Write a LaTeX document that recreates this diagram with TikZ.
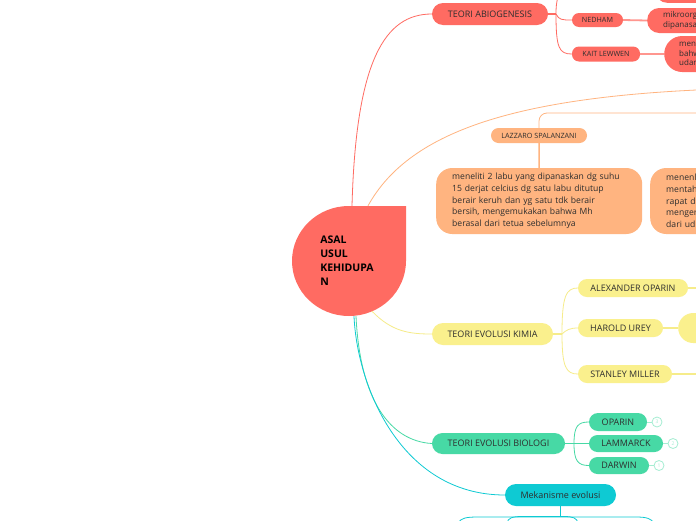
\documentclass[tikz,border=0pt]{standalone}
\usepackage{fontspec}
\setmainfont{Open Sans}
\definecolor{txt}{HTML}{2E2E2E}
\definecolor{cred}{HTML}{FF6B62}
\definecolor{credl}{HTML}{FF968F}
\definecolor{corange}{HTML}{FFB480}
\definecolor{cyellow}{HTML}{FAF08D}
\definecolor{cyell}{HTML}{F6EC8A}
\definecolor{cgreen}{HTML}{47D9A5}
\definecolor{cgreenl}{HTML}{A5EDD2}
\definecolor{cteal}{HTML}{0ECAD3}
\begin{document}
\begin{tikzpicture}[x=1pt,y=-1pt,
  box/.style={inner sep=0pt, text=txt, align=center},
  f9/.style={font=\fontsize{9}{11}\selectfont},
  f8/.style={font=\fontsize{8}{10}\selectfont},
  f7/.style={font=\fontsize{7.2}{9}\selectfont},
  desc/.style={box, align=left, anchor=west, inner xsep=16pt},
  redline/.style={draw=cred, line width=0.8pt},
  redthick/.style={draw=credl, line width=1.8pt},
  orline/.style={draw=corange, line width=0.8pt},
  orthick/.style={draw=corange, line width=1.5pt},
  yline/.style={draw=cyell, line width=0.8pt},
  ythick/.style={draw=cyell, line width=1.5pt},
  gline/.style={draw=cgreen, line width=0.8pt},
  gthin/.style={draw=cgreenl, line width=0.8pt},
  tline/.style={draw=cteal, line width=0.8pt},
  marker/.style={circle, draw=cgreenl, fill=white, line width=0.8pt, minimum size=10pt, inner sep=0pt, text=cgreenl, font=\fontsize{5}{5}\selectfont}
]
\useasboundingbox (0,0) rectangle (696,520);
\fill[white] (0,0) rectangle (696,520);

% central shape
\fill[cred] (406,206) -- (406,261) .. controls (406,291.4) and (380.5,316) .. (349,316)
  .. controls (317.5,316) and (292,291.4) .. (292,261)
  .. controls (292,230.6) and (317.5,206) .. (349,206) -- cycle;
\node[box, minimum width=114pt, minimum height=110pt, align=left, text=black,
  font=\fontsize{10.5}{14}\selectfont\bfseries] (root) at (347,261)
  {ASAL\\USUL\\KEHIDUPA\\N};

% ---------- abiogenesis (red)
\node[box, fill=cred, rounded corners=11pt, minimum width=116pt, minimum height=22pt, f9] (abio) at (490,14) {TEORI ABIOGENESIS};
\node[box, fill=cred, rounded corners=7pt, minimum width=51pt, minimum height=14pt, f7] (ned) at (597.5,20) {NEDHAM};
\node[box, fill=cred, rounded corners=7pt, minimum width=68pt, minimum height=15pt, f7] (kait) at (606,54) {KAIT LEWWEN};
\node[box, fill=cred, rounded corners=12pt, minimum width=70pt, minimum height=30pt, anchor=south west] (topdesc) at (655,3) {};
\node[desc, fill=cred, rounded corners=12pt, minimum height=25pt, text width=70pt, f8] (neddesc) at (647,20.5) {mikroorga\\dipanasak};
\node[desc, fill=cred, rounded corners=18pt, minimum height=36pt, text width=70pt, inner xsep=15pt,
  font=\fontsize{8}{9.5}\selectfont] (kaitdesc) at (664,54) {mene\\bahw\\udara};
\coordinate (aj) at (556,14);
\coordinate (abtop) at (566,-12);
\draw[redline, line width=1.2pt] (abio.east) -- (aj);
\draw[redline] (aj) .. controls (559,20) and (562,20) .. (ned.west);
\draw[redline] (aj) .. controls (556,48) and (559,54) .. (kait.west);
\draw[redline] (aj) .. controls (556,0) and (558,-8) .. (abtop);
\draw[redthick] (ned.east) -- (neddesc.west);
\draw[redthick] (kait.east) -- (kaitdesc.west);
\draw[redline] ([xshift=5pt]root.north) .. controls (356,60) and (385,14) .. (abio.west);

% ---------- biogenesis (orange)
\coordinate (biogen) at (760,88);
\coordinate (lazpar) at (720,113);
\node[box, fill=corange, rounded corners=7.5pt, minimum width=96pt, minimum height=15pt, f7] (laz) at (539,135.5) {LAZZARO SPALANZANI};
\node[desc, fill=corange, rounded corners=16pt, minimum height=66pt, text width=184pt, inner xsep=11pt,
  font=\fontsize{8.6}{11.7}\selectfont] (lazdesc) at (436,201)
  {\hspace*{5pt}meneliti 2 labu yang dipanaskan dg suhu\\\hspace*{5pt}15 derjat celcius dg satu labu ditutup\\\hspace*{5pt}berair keruh dan yg satu tdk berair\\\hspace*{5pt}bersih, mengemukakan bahwa Mh\\\hspace*{5pt}berasal dari tetua sebelumnya};
\node[desc, fill=corange, rounded corners=16pt, minimum height=66pt, text width=174pt,
  font=\fontsize{8.6}{11.7}\selectfont] (desc2) at (650,201)
  {menenl\\mentah\\rapat d\\menger\\dari ud};
\draw[orline] ([xshift=21pt]root.north) .. controls (410,130) and (520,92) .. (biogen);
\draw[orline, rounded corners=8pt] (lazpar) -| (laz.north);
\draw[orthick] (laz.south) -- (lazdesc.north);

% ---------- evolusi kimia (yellow)
\node[box, fill=cyellow, rounded corners=11pt, minimum width=121pt, minimum height=22pt, f9] (kimia) at (492.5,334) {TEORI EVOLUSI KIMIA};
\node[box, fill=cyellow, rounded corners=9pt, minimum width=110pt, minimum height=18pt, f9] (alex) at (633,288) {ALEXANDER OPARIN};
\node[box, fill=cyellow, rounded corners=9pt, minimum width=85pt, minimum height=18pt, f9] (harold) at (620.5,328) {HAROLD UREY};
\node[box, fill=cyellow, rounded corners=9pt, minimum width=94pt, minimum height=18pt, f9] (stanley) at (625,374) {STANLEY MILLER};
\node[box, fill=cyellow, rounded corners=15pt, minimum width=80pt, minimum height=30pt, anchor=west] (hdesc) at (678,328) {};
\coordinate (kj) at (562,334);
\coordinate (alexr) at (705,288);
\coordinate (stanr) at (705,374);
\draw[yline] ([xshift=25pt,yshift=5pt]root.south) .. controls (392,332) and (410,334) .. (kimia.west);
\draw[yline, line width=1.2pt] (kimia.east) -- (kj);
\draw[yline] (kj) .. controls (562,296) and (566,288) .. (alex.west);
\draw[yline] (kj) .. controls (566,330) and (570,328) .. (harold.west);
\draw[yline] (kj) .. controls (562,367) and (566,374) .. (stanley.west);
\draw[ythick] (alex.east) -- (alexr);
\draw[ythick] (harold.east) -- (hdesc.west);
\draw[ythick] (stanley.east) -- (stanr);

% ---------- evolusi biologi (green)
\node[box, fill=cgreen, rounded corners=10.5pt, minimum width=133pt, minimum height=21pt, f9] (bio) at (498.5,443.5) {TEORI EVOLUSI BIOLOGI};
\node[box, fill=cgreen, rounded corners=9pt, minimum width=58pt, minimum height=18pt, f9] (oparin) at (618,422) {OPARIN};
\node[box, fill=cgreen, rounded corners=8.5pt, minimum width=74pt, minimum height=17pt, f9] (lam) at (626,443.5) {LAMMARCK};
\node[box, fill=cgreen, rounded corners=8.5pt, minimum width=60pt, minimum height=17pt, f9] (darwin) at (619,465.5) {DARWIN};
\node[marker] (m1) at (657,422) {3};
\node[marker] (m2) at (673,443.5) {2};
\node[marker] (m3) at (659,465.5) {1};
\coordinate (gj) at (574,443.5);
\draw[gline] ([xshift=9pt]root.south) .. controls (360,400) and (390,441) .. (bio.west);
\draw[gline, line width=1.2pt] (bio.east) -- (gj);
\draw[gline] (gj) .. controls (574,426) and (578,422) .. (oparin.west);
\draw[gline] (gj) -- (lam.west);
\draw[gline] (gj) .. controls (574,461) and (578,465.5) .. (darwin.west);
\draw[gthin] (oparin.east) -- (m1.west);
\draw[gthin] (lam.east) -- (m2.west);
\draw[gthin] (darwin.east) -- (m3.west);

% ---------- mekanisme evolusi (teal)
\node[box, fill=cteal, rounded corners=11pt, minimum width=111pt, minimum height=22pt, f9] (mek) at (560.5,495) {Mekanisme evolusi};
\coordinate (mj) at (560.5,517);
\coordinate (ml) at (458,523);
\coordinate (mr) at (654,523);
\coordinate (ml2) at (507,523);
\coordinate (mr2) at (578,523);
\draw[tline] ([xshift=7pt]root.south) .. controls (357,385) and (400,495) .. (mek.west);
\draw[tline, line width=1.2pt] (mek.south) -- (mj);
\draw[tline] (ml) .. controls (461,518) and (466,517) .. (478,517) -- (636,517) .. controls (648,517) and (651,519) .. (mr);
\draw[tline] (ml2) .. controls (508,518) and (512,516.5) .. (522,516.5) -- (564,516.5) .. controls (573,516.5) and (577,518) .. (mr2);
\end{tikzpicture}
\end{document}
